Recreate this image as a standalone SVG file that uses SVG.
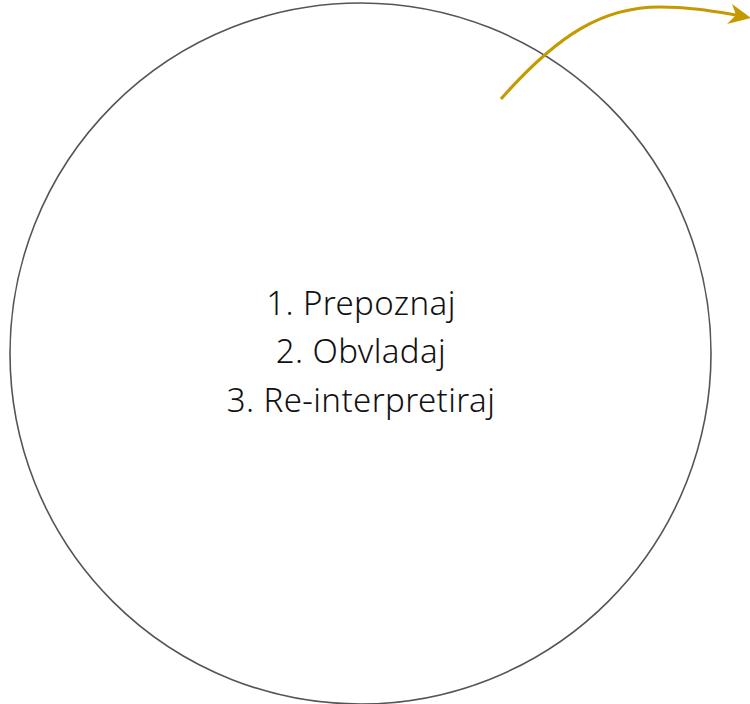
<svg xmlns="http://www.w3.org/2000/svg" width="750" height="704" viewBox="0 0 750 704">
  <style>
    .ring { fill: none; stroke: #555555; stroke-width: 1.6; }
    .flow { fill: none; stroke: #C49A00; stroke-width: 3.2; stroke-linecap: butt; }
    .head { fill: #C49A00; }
    .label { font-family: "Noto Sans", Lato, sans-serif; font-weight: 300; font-size: 33px; letter-spacing: 0.4px; fill: #111111; text-anchor: middle; font-variant-ligatures: none; }
  </style>
  <rect width="750" height="704" fill="#ffffff"/>
  <g id="circle-node">
    <circle class="ring" cx="360.5" cy="353.5" r="350.5"/>
    <text class="label" x="361" y="315">1. Prepoznaj</text>
    <text class="label" x="361" y="363">2. Obvladaj</text>
    <text class="label" x="361" y="412">3. Re-interpretiraj</text>
  </g>
  <g id="connectors">
    <path class="flow" d="M501,99 C560,32 605,7 660,7 C690,7 712,11 736,15"/>
    <polygon class="head" points="751,18 732,4 736,15 727,24"/>
  </g>
</svg>
